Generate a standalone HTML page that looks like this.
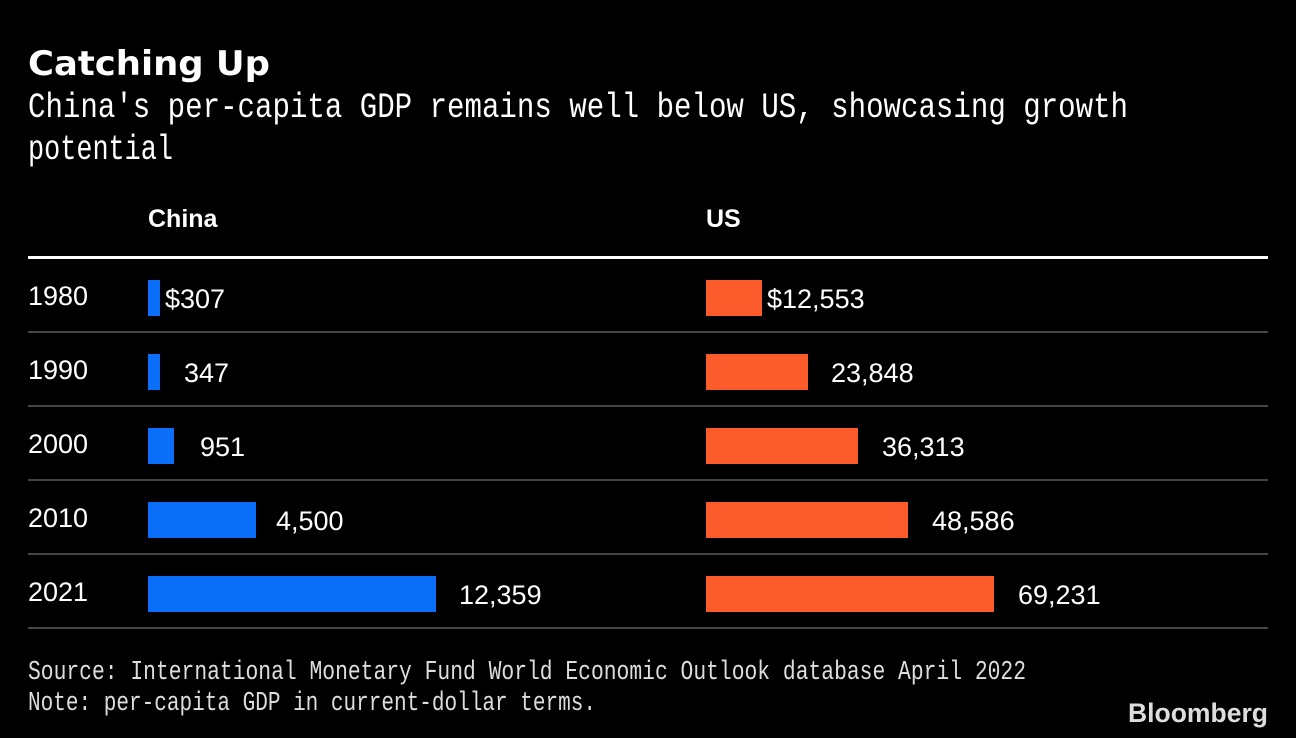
<!DOCTYPE html>
<html><head><meta charset="utf-8"><style>
html,body{margin:0;padding:0;background:#000;}
svg{display:block;}
text{font-family:"Liberation Sans",sans-serif;fill:#fff;}
.m{font-family:"DejaVu Sans","Liberation Sans",sans-serif;}
.mono{font-family:"Liberation Mono",monospace;fill:#ddd;}
.v{font-size:27px;}
</style></head><body>
<svg width="1296" height="738" viewBox="0 0 1296 738">
<rect width="1296" height="738" fill="#000"/>
<text class="m" x="28" y="75" font-size="34" font-weight="bold" textLength="242" lengthAdjust="spacingAndGlyphs">Catching Up</text>
<text class="mono" x="28" y="117" font-size="35" style="fill:#fff" textLength="1100" lengthAdjust="spacingAndGlyphs">China's per-capita GDP remains well below US, showcasing growth</text>
<text class="mono" x="28" y="159" font-size="35" style="fill:#fff" textLength="145" lengthAdjust="spacingAndGlyphs">potential</text>
<text x="148" y="227" font-size="25" font-weight="bold">China</text>
<text x="706" y="227" font-size="25" font-weight="bold">US</text>
<rect x="28" y="256" width="1240" height="3" fill="#fff"/>
<g fill="#444">
<rect x="28" y="331" width="1240" height="2"/>
<rect x="28" y="405" width="1240" height="2"/>
<rect x="28" y="479" width="1240" height="2"/>
<rect x="28" y="553" width="1240" height="2"/>
<rect x="28" y="627" width="1240" height="2"/>
</g>
<g class="v">
<text x="28" y="305">1980</text>
<text x="28" y="379">1990</text>
<text x="28" y="453">2000</text>
<text x="28" y="527">2010</text>
<text x="28" y="601">2021</text>
</g>
<g fill="#0a6ef8">
<rect x="148" y="280" width="12" height="36"/>
<rect x="148" y="354" width="12" height="36"/>
<rect x="148" y="428" width="26" height="36"/>
<rect x="148" y="502" width="108" height="36"/>
<rect x="148" y="576" width="288" height="36"/>
</g>
<g fill="#fb5a2b">
<rect x="706" y="280" width="56" height="36"/>
<rect x="706" y="354" width="102" height="36"/>
<rect x="706" y="428" width="152" height="36"/>
<rect x="706" y="502" width="202" height="36"/>
<rect x="706" y="576" width="288" height="36"/>
</g>
<g class="v">
<text x="165" y="308">$307</text>
<text x="184" y="382">347</text>
<text x="200" y="456">951</text>
<text x="276" y="530">4,500</text>
<text x="459" y="604">12,359</text>
<text x="767" y="308">$12,553</text>
<text x="831" y="382">23,848</text>
<text x="882" y="456">36,313</text>
<text x="932" y="530">48,586</text>
<text x="1018" y="604">69,231</text>
</g>
<text class="mono" x="28" y="679" font-size="27" textLength="998" lengthAdjust="spacingAndGlyphs">Source: International Monetary Fund World Economic Outlook database April 2022</text>
<text class="mono" x="28" y="710" font-size="27" textLength="568" lengthAdjust="spacingAndGlyphs">Note: per-capita GDP in current-dollar terms.</text>
<text x="1268" y="722" text-anchor="end" font-size="27" font-weight="bold" style="fill:#ddd" textLength="140" lengthAdjust="spacingAndGlyphs">Bloomberg</text>
</svg>
</body></html>
